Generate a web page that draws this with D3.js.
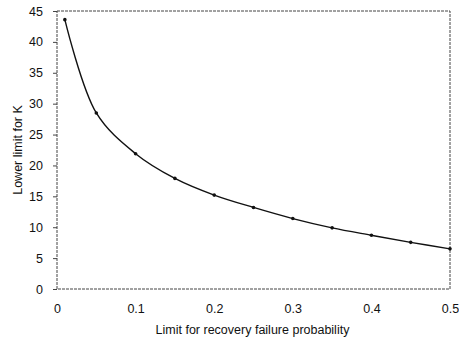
<!DOCTYPE html>
<html lang="en">
<head>
  <meta charset="UTF-8">
  <title>Lower limit for K</title>
  <script src="https://cdn.jsdelivr.net/npm/d3@7"></script>
  <style>
    body { margin: 0; background: #fff; }
    text { font-family: "Liberation Sans", Arial, sans-serif; fill: #111; }
  </style>
</head>
<body>
  <svg id="chart" width="459" height="344"></svg>
  <script>
    // values
    const failureLimit = [0.01, 0.05, 0.1, 0.15, 0.2, 0.25, 0.3, 0.35, 0.4, 0.45, 0.5];
    const lowerK = [43.6, 28.5, 21.9, 17.9, 15.2, 13.2, 11.4, 9.9, 8.7, 7.55, 6.5];
    const xTicks = [0, 0.1, 0.2, 0.3, 0.4, 0.5];
    const yTicks = [0, 5, 10, 15, 20, 25, 30, 35, 40, 45];

    const svg = d3.select('#chart');
    const m = { left: 57, right: 450, top: 11, bottom: 289 };

    const x = d3.scaleLinear().domain([0, 0.5]).range([m.left, m.right]);
    const y = d3.scaleLinear().domain([0, 45]).range([m.bottom, m.top]);

    // plot frame
    svg.append('rect')
      .attr('x', m.left).attr('y', m.top)
      .attr('width', m.right - m.left).attr('height', m.bottom - m.top)
      .attr('fill', 'none')
      .attr('stroke', '#444')
      .attr('stroke-width', 1)
      .attr('stroke-dasharray', '3,1');

    // y axis
    const yAxis = svg.append('g')
      .attr('transform', `translate(${m.left},0)`)
      .call(d3.axisLeft(y).tickValues(yTicks).tickSize(4).tickPadding(10));
    yAxis.select('.domain').remove();
    yAxis.selectAll('line').attr('stroke', '#444');
    yAxis.selectAll('text').style('font-size', '12.5px').attr('fill', '#111');

    // x axis
    const xAxis = svg.append('g')
      .attr('transform', `translate(0,${m.bottom})`)
      .call(d3.axisBottom(x).tickValues(xTicks).tickSize(0).tickPadding(15)
        .tickFormat(d => d === 0 ? '0' : d3.format('.1f')(d)));
    xAxis.select('.domain').remove();
    xAxis.selectAll('text').style('font-size', '12.5px').attr('fill', '#111');

    // titles
    svg.append('text')
      .attr('x', (m.left + m.right) / 2 - 1).attr('y', 334)
      .attr('text-anchor', 'middle')
      .style('font-size', '12.5px')
      .text('Limit for recovery failure probability');

    svg.append('text')
      .attr('transform', `translate(22,${(m.top + m.bottom) / 2}) rotate(-90)`)
      .attr('text-anchor', 'middle')
      .style('font-size', '12.5px')
      .text('Lower limit for K');

    // curve
    const pts = failureLimit.map((d, i) => [d, lowerK[i]]);
    const line = d3.line()
      .x(d => x(d[0]))
      .y(d => y(d[1]))
      .curve(d3.curveCatmullRom.alpha(0.5));

    svg.append('path')
      .datum(pts)
      .attr('d', line)
      .attr('fill', 'none')
      .attr('stroke', '#111')
      .attr('stroke-width', 1.4);

    svg.selectAll('circle.pt')
      .data(pts)
      .enter().append('circle')
      .attr('class', 'pt')
      .attr('cx', d => x(d[0]))
      .attr('cy', d => y(d[1]))
      .attr('r', 1.8)
      .attr('fill', '#111');
  </script>
</body>
</html>
